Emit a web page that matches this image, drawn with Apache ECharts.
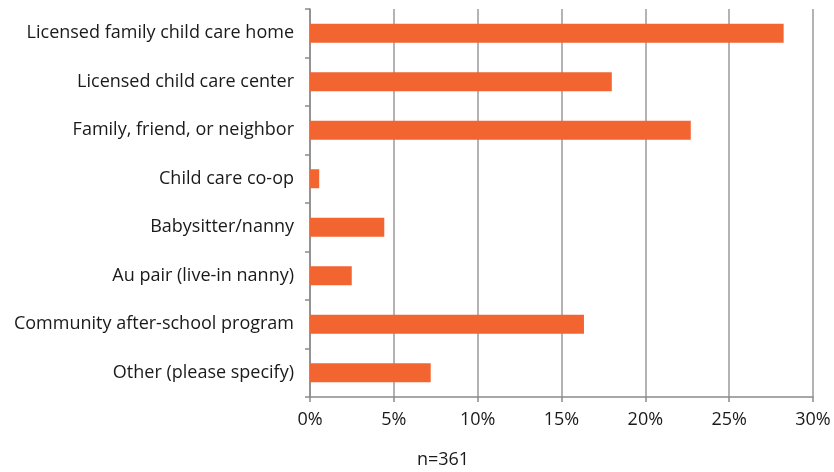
<!DOCTYPE html>
<html><head><meta charset="utf-8">
<script src="https://cdn.jsdelivr.net/npm/echarts@6/dist/echarts.min.js"></script>
<style>html,body{margin:0;padding:0;background:#fff}#c{width:834px;height:472px}</style>
</head><body><div id="c"></div>
<script>
const categories = ["Licensed family child care home","Licensed child care center","Family, friend, or neighbor","Child care co-op","Babysitter/nanny","Au pair (live-in nanny)","Community after-school program","Other (please specify)"];
const values = [28.25, 18.0, 22.71, 0.55, 4.43, 2.49, 16.34, 7.2];
const xTicks = [0, 5, 10, 15, 20, 25, 30];
const note = "n=361";

const chart = echarts.init(document.getElementById('c'), null, {renderer:'canvas'});
const font = "'Open Sans', 'Noto Sans', sans-serif";
chart.setOption({
  animation:false,
  grid:{left:310, right:21, top:9, bottom:75, containLabel:false},
  xAxis:{type:'value', min:xTicks[0], max:xTicks[xTicks.length-1], interval:5,
    axisLine:{show:true, lineStyle:{color:'#8a8a8a', width:1.5}},
    axisTick:{show:true, length:5, lineStyle:{color:'#8a8a8a', width:1.5}},
    splitLine:{show:true, lineStyle:{color:'#9a9a9a', width:1.5}},
    axisLabel:{formatter:v=>v+'%', color:'#1a1a1a', fontSize:18, fontFamily:font, margin:14}},
  yAxis:{type:'category', data:categories, inverse:true,
    axisLine:{show:true, lineStyle:{color:'#8a8a8a', width:1.5}},
    axisTick:{show:true, length:5, lineStyle:{color:'#8a8a8a', width:1.5}},
    axisLabel:{color:'#1a1a1a', fontSize:18, fontFamily:font, margin:16}},
  series:[{type:'bar', data:values, barWidth:19, itemStyle:{color:'#F26531'}}],
  graphic:[{type:'text', x:443, y:460, style:{text:note, align:'center', verticalAlign:'middle', fill:'#1a1a1a', fontSize:18, fontFamily:font}}]
});
</script></body></html>
